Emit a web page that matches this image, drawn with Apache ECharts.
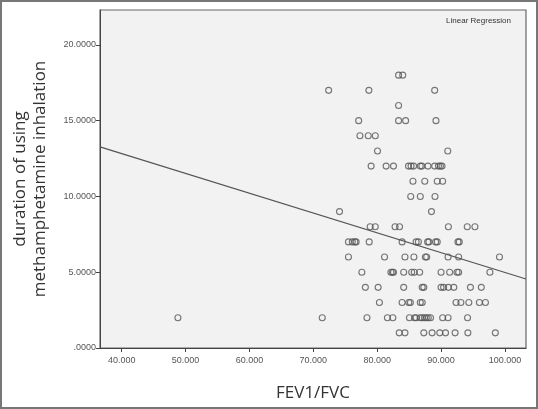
<!DOCTYPE html>
<html><head><meta charset="utf-8">
<script src="https://cdn.jsdelivr.net/npm/echarts@6/dist/echarts.min.js"></script>
<style>html,body{margin:0;padding:0;background:#fff}#c{width:538px;height:409px;box-sizing:border-box;border:2px solid #777}</style>
</head><body><div id="c"></div>
<script>
const yLevels = [18,17,16,15,14,13,12,11,10,9,8,7,6,5,4,3,2,1];
const xByLevel = [
 [83.35,84.0],
 [72.4,78.7,89.0],
 [83.35],
 [77.1,83.35,84.45,89.2],
 [77.3,78.6,79.7],
 [80.05,91.05],
 [79.05,81.4,82.55,84.9,85.3,85.7,86.75,87.0,87.95,89.0,89.6,89.9,90.15],
 [85.6,87.45,89.4,90.25],
 [85.25,86.75,89.05],
 [74.1,88.5],
 [78.9,79.7,82.8,83.5,91.15,94.1,95.3],
 [75.5,76.1,76.5,76.7,78.75,83.9,86.1,86.45,87.9,88.1,89.15,89.4,92.65,92.85],
 [75.5,81.15,84.35,85.75,87.55,87.75,91.1,92.75,99.15],
 [77.6,82.15,82.4,82.55,84.15,85.4,85.8,86.65,90.0,91.35,92.5,92.75,97.65],
 [78.15,80.15,84.15,87.05,87.3,90.0,90.4,91.15,92.0,94.6,96.3],
 [80.35,83.9,84.95,85.2,86.75,87.05,92.35,93.1,94.35,96.0,96.95],
 [48.8,71.4,78.4,81.6,82.45,85.05,85.85,86.1,86.75,87.05,87.4,87.7,88.0,88.35,90.25,91.1,94.15],
 [83.45,84.35,87.3,88.6,89.8,90.7,92.2,94.2,98.5]
];
const xTicks = [40,50,60,70,80,90,100];
const yTicks = [0,5,10,15,20];
const xRange = [36.6,103.3];
const yRange = [0,22.3];

const pts = [];
yLevels.forEach((y,i)=>xByLevel[i].forEach(x=>pts.push([x,y])));
// least squares fit
const n = pts.length;
const mx = pts.reduce((s,p)=>s+p[0],0)/n, my = pts.reduce((s,p)=>s+p[1],0)/n;
let sxy=0,sxx=0; pts.forEach(p=>{sxy+=(p[0]-mx)*(p[1]-my);sxx+=(p[0]-mx)**2;});
const b = sxy/sxx, a = my-b*mx;
const fit = xRange.map(x=>[x,a+b*x]);

const lab = {color:'#555',fontSize:9,fontFamily:'Liberation Sans'};
const chart = echarts.init(document.getElementById('c'));
chart.setOption({
 animation:false,
 grid:{left:98,right:10,top:8,bottom:57,show:true,backgroundColor:'#f2f2f2',borderColor:'#666',borderWidth:1.2},
 title:{text:'Linear Regression',right:20,top:10,textStyle:{fontSize:8,fontWeight:'normal',color:'#333',fontFamily:'Liberation Sans'}},
 xAxis:{type:'value',min:xRange[0],max:xRange[1],
  name:'FEV1/FVC',nameLocation:'middle',nameGap:37,nameTextStyle:{fontSize:17,color:'#333',fontFamily:'Open Sans'},
  axisLine:{lineStyle:{color:'#444'}},splitLine:{show:false},
  axisTick:{customValues:xTicks,length:4,lineStyle:{color:'#444'}},
  axisLabel:Object.assign({customValues:xTicks,formatter:v=>v.toFixed(3),margin:8},lab)},
 yAxis:{type:'value',min:yRange[0],max:yRange[1],
  name:'duration of using\nmethamphetamine inhalation',nameLocation:'middle',nameGap:50,
  nameTextStyle:{fontSize:17,color:'#333',fontFamily:'Open Sans',lineHeight:20},
  axisLine:{show:true,lineStyle:{color:'#444'}},splitLine:{show:false},
  axisTick:{show:true,customValues:yTicks,length:4,lineStyle:{color:'#444'}},
  axisLabel:Object.assign({customValues:yTicks,formatter:v=>v===0?'.0000':v.toFixed(4),margin:4},lab)},
 series:[
  {type:'scatter',data:pts,symbol:'circle',symbolSize:6,itemStyle:{color:'transparent',borderColor:'#555',borderWidth:1.1}},
  {type:'line',data:fit,symbol:'none',lineStyle:{color:'#555',width:1.2}}
 ]
});
</script></body></html>
